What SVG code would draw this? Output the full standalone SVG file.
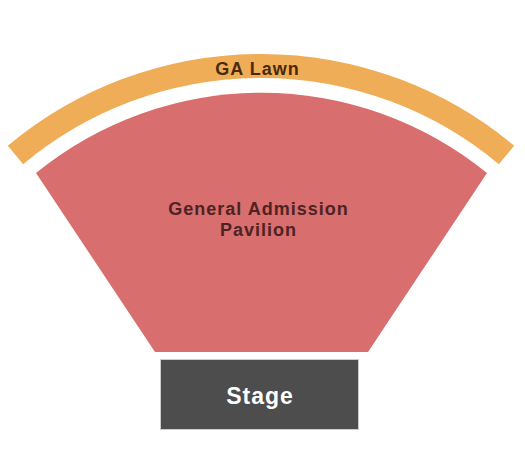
<svg xmlns="http://www.w3.org/2000/svg" width="525" height="460" viewBox="0 0 525 460">
<style>
text{font-family:"Liberation Sans",Arial,sans-serif;font-weight:bold;text-anchor:middle;letter-spacing:1px}
.lbl{font-size:18px;fill:#4d2323}
</style>
<rect width="525" height="460" fill="#fff"/>
<g id="ga-lawn">
<path d="M 15.5 155 A 383 383 0 0 1 506.5 155" fill="none" stroke="#f0ad57" stroke-width="24"/>
<text x="257.5" y="75" font-size="18" fill="#4a2a0a">GA Lawn</text>
</g>
<g id="pavilion">
<path d="M 36 173 A 357 357 0 0 1 487 173 L 368 352 L 155 352 Z" fill="#d86e6e"/>
<text class="lbl" x="258.5" y="215">General Admission</text>
<text class="lbl" x="258.5" y="236">Pavilion</text>
</g>
<g id="stage">
<rect x="160.5" y="359.5" width="198" height="70" fill="#4d4d4d" stroke="#cccccc" stroke-width="1"/>
<text x="260" y="404" font-size="23" fill="#ffffff">Stage</text>
</g>
</svg>
